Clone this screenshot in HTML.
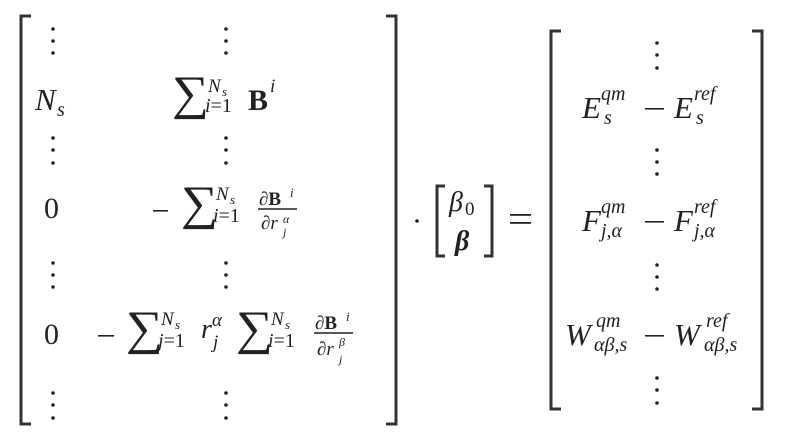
<!DOCTYPE html>
<html><head><meta charset="utf-8"><style>
html,body{margin:0;padding:0;background:#fff;}
svg{display:block}
text{fill:#222;}
.i{font-style:italic}
.b{font-weight:bold}
</style></head><body>
<svg width="800" height="442" viewBox="0 0 800 442" xmlns="http://www.w3.org/2000/svg" font-family="'Liberation Serif', 'DejaVu Serif', serif">
<g stroke="#333" stroke-width="3" fill="none">
<path d="M31,16 H21 V424 H31"/>
<path d="M386,16 H396 V424 H386"/>
<path d="M445,186 H437 V256 H445"/>
<path d="M484,186 H492 V256 H484"/>
<path d="M561,31 H551 V409 H561"/>
<path d="M752,31 H762 V409 H752"/>
</g>
<g fill="#222">
<circle cx="53" cy="29" r="1.8"/><circle cx="53" cy="41" r="1.8"/><circle cx="53" cy="53" r="1.8"/>
<circle cx="53" cy="138" r="1.8"/><circle cx="53" cy="150" r="1.8"/><circle cx="53" cy="163" r="1.8"/>
<circle cx="53" cy="263" r="1.8"/><circle cx="53" cy="275" r="1.8"/><circle cx="53" cy="287" r="1.8"/>
<circle cx="53" cy="393" r="1.8"/><circle cx="53" cy="405" r="1.8"/><circle cx="53" cy="418" r="1.8"/>
<circle cx="226" cy="29" r="1.8"/><circle cx="226" cy="41" r="1.8"/><circle cx="226" cy="53" r="1.8"/>
<circle cx="226" cy="138" r="1.8"/><circle cx="226" cy="150" r="1.8"/><circle cx="226" cy="163" r="1.8"/>
<circle cx="226" cy="263" r="1.8"/><circle cx="226" cy="275" r="1.8"/><circle cx="226" cy="287" r="1.8"/>
<circle cx="226" cy="393" r="1.8"/><circle cx="226" cy="405" r="1.8"/><circle cx="226" cy="418" r="1.8"/>
<circle cx="657" cy="43" r="1.8"/><circle cx="657" cy="55" r="1.8"/><circle cx="657" cy="68" r="1.8"/>
<circle cx="657" cy="150" r="1.8"/><circle cx="657" cy="162" r="1.8"/><circle cx="657" cy="174" r="1.8"/>
<circle cx="657" cy="265" r="1.8"/><circle cx="657" cy="277" r="1.8"/><circle cx="657" cy="289" r="1.8"/>
<circle cx="657" cy="378" r="1.8"/><circle cx="657" cy="390" r="1.8"/><circle cx="657" cy="403" r="1.8"/>
<circle cx="417" cy="221" r="1.8"/>
<rect x="153" y="210" width="15" height="1.6"/>
<rect x="98" y="335" width="16" height="1.6"/>
<rect x="645" y="108" width="19" height="1.6"/>
<rect x="645" y="221" width="19" height="1.6"/>
<rect x="645" y="335" width="19" height="1.6"/>
<rect x="510" y="214" width="21" height="1.8"/>
<rect x="510" y="222" width="21" height="1.8"/>
</g>
<!-- row Ns -->
<text x="35" y="110" font-size="31" class="i">N</text><text x="57" y="116" font-size="20" class="i">s</text>
<text x="172" y="109" font-size="40" transform="translate(172 109) scale(1.3 1.2) translate(-172 -109)">∑</text>
<text x="208" y="92" font-size="19" class="i">N</text><text x="222" y="96" font-size="13" class="i">s</text>
<text x="205" y="112" font-size="20"><tspan class="i">i</tspan>=1</text>
<text x="248" y="110" font-size="30" class="b">B</text><text x="270" y="92" font-size="19" class="i">i</text>
<!-- row 0 a -->
<text x="44" y="218" font-size="30">0</text>
<text x="181" y="219" font-size="40" transform="translate(181 219) scale(1.3 1.2) translate(-181 -219)">∑</text>
<text x="216" y="200" font-size="19" class="i">N</text><text x="230" y="204" font-size="13" class="i">s</text>
<text x="213" y="222" font-size="20"><tspan class="i">i</tspan>=1</text>
<text x="259" y="205" font-size="19">∂<tspan font-weight="bold">B</tspan></text><text x="290" y="197" font-size="13" class="i">i</text>
<line x1="258" y1="209" x2="297" y2="209" stroke="#222" stroke-width="1.5"/>
<text x="261" y="229" font-size="19">∂<tspan font-style="italic">r</tspan></text><text x="283" y="223" font-size="12" class="i">α</text><text x="283" y="236" font-size="12" class="i">j</text>
<!-- row 0 b -->
<text x="44" y="344" font-size="30">0</text>
<text x="126" y="344" font-size="40" transform="translate(126 344) scale(1.3 1.2) translate(-126 -344)">∑</text>
<text x="161" y="325" font-size="19" class="i">N</text><text x="175" y="329" font-size="13" class="i">s</text>
<text x="158" y="347" font-size="20"><tspan class="i">j</tspan>=1</text>
<text x="201" y="338" font-size="28" class="i">r</text><text x="212" y="326" font-size="19" class="i">α</text><text x="213" y="348" font-size="19" class="i">j</text>
<text x="236" y="344" font-size="40" transform="translate(236 344) scale(1.3 1.2) translate(-236 -344)">∑</text>
<text x="271" y="325" font-size="19" class="i">N</text><text x="285" y="329" font-size="13" class="i">s</text>
<text x="268" y="347" font-size="20"><tspan class="i">i</tspan>=1</text>
<text x="315" y="329" font-size="19">∂<tspan font-weight="bold">B</tspan></text><text x="346" y="321" font-size="13" class="i">i</text>
<line x1="314" y1="333" x2="353" y2="333" stroke="#222" stroke-width="1.5"/>
<text x="317" y="355" font-size="19">∂<tspan font-style="italic">r</tspan></text><text x="339" y="346" font-size="12" class="i">β</text><text x="339" y="363" font-size="12" class="i">j</text>
<!-- beta vector -->
<text x="449" y="211" font-size="28" class="i">β</text><text x="465" y="215" font-size="19">0</text>
<text x="455" y="250" font-size="28" font-style="italic" font-weight="bold">β</text>
<!-- RHS -->
<text x="582" y="118" font-size="31" class="i">E</text><text x="601" y="100" font-size="20" class="i">qm</text><text x="604" y="124" font-size="20" class="i">s</text>
<text x="674" y="118" font-size="31" class="i">E</text><text x="694" y="100" font-size="20" class="i">ref</text><text x="696" y="124" font-size="20" class="i">s</text>
<text x="582" y="231" font-size="31" class="i">F</text><text x="601" y="213" font-size="20" class="i">qm</text><text x="601" y="237" font-size="20" class="i">j,α</text>
<text x="674" y="231" font-size="31" class="i">F</text><text x="694" y="213" font-size="20" class="i">ref</text><text x="694" y="237" font-size="20" class="i">j,α</text>
<text x="565" y="345" font-size="31" class="i">W</text><text x="596" y="327" font-size="20" class="i">qm</text><text x="594" y="351" font-size="20" class="i">αβ,s</text>
<text x="674" y="345" font-size="31" class="i">W</text><text x="706" y="327" font-size="20" class="i">ref</text><text x="704" y="351" font-size="20" class="i">αβ,s</text>
</svg>
</body></html>
